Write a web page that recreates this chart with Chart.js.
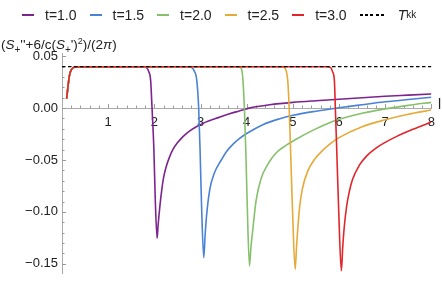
<!DOCTYPE html>
<html>
<head>
<meta charset="utf-8">
<script src="https://cdn.jsdelivr.net/npm/chart.js@4.4.1/dist/chart.umd.min.js"></script>
<style>
  body { margin: 0; background: #fff; }
  #wrap { position: relative; width: 442px; height: 285px; font-family: 'Liberation Sans', Arial, sans-serif; color: #222; }
  #legend { position: absolute; top: 7px; left: 22px; display: flex; align-items: center; font-size: 14px; line-height: 16px; white-space: nowrap; }
  .item { display: flex; align-items: center; margin-right: 13px; }
  .sw { display: inline-block; width: 12px; height: 2px; margin-right: 11px; }
  .dash { width: 26px; height: 1.5px; margin-right: 12px; background: repeating-linear-gradient(90deg, #000 0 3px, transparent 3px 5.2px); }
  sub { font-size: 10px; vertical-align: -4px; }
  sup { font-size: 9px; vertical-align: 5px; }
  #ytitle { position: absolute; top: 33px; left: 1px; font-size: 13.5px; line-height: 16px; white-space: nowrap; }
  #xtitle { position: absolute; top: 96px; left: 438px; font-size: 14px; }
</style>
</head>
<body>
<div id="wrap">
  <canvas id="myChart" width="442" height="285"></canvas>
  <div id="legend"></div>
  <div id="ytitle">(<i>S</i><sub>+</sub>''+6/c(<i>S</i><sub>+</sub>')<sup>2</sup>)/(2<i>π</i>)</div>
  <div id="xtitle">l</div>
</div>
<script>
// valores
const tLabels = ['t=1.0', 't=1.5', 't=2.0', 't=2.5', 't=3.0'];
const cores = ['#7d2390', '#4a82d6', '#86c06c', '#e6aa38', '#e2252a'];

const l_t10 = [0.10, 0.16, 0.21, 0.30, 1.00, 1.75, 1.83, 1.88, 1.92, 1.95, 1.99, 2.02, 2.06, 2.08, 2.12, 2.16, 2.20, 2.26, 2.33, 2.40, 2.50, 2.62, 2.76, 2.91, 3.10, 3.34, 3.63, 3.84, 4.05, 4.50, 5.00, 5.50, 6.00, 6.50, 7.00, 7.50, 8.00];
const S_t10 = [0.009, 0.031, 0.0375, 0.0395, 0.0398, 0.0398, 0.0390, 0.035, 0.0264, 0.0, -0.040, -0.088, -0.1254, -0.1135, -0.0945, -0.079, -0.067, -0.056, -0.047, -0.040, -0.0335, -0.0275, -0.0222, -0.0180, -0.0138, -0.0099, -0.0055, -0.0028, -0.0001, 0.0032, 0.0055, 0.0071, 0.0085, 0.0099, 0.0113, 0.0124, 0.0135];

const l_t15 = [0.10, 0.16, 0.21, 0.30, 1.50, 2.72, 2.80, 2.86, 2.92, 2.96, 2.99, 3.02, 3.07, 3.10, 3.13, 3.20, 3.30, 3.45, 3.56, 3.70, 3.84, 4.00, 4.35, 4.70, 5.00, 5.50, 6.00, 6.50, 7.00, 7.50, 8.00];
const S_t15 = [0.009, 0.031, 0.0375, 0.0395, 0.0398, 0.0398, 0.0392, 0.036, 0.0264, 0.0, -0.040, -0.090, -0.144, -0.122, -0.104, -0.0785, -0.0626, -0.050, -0.042, -0.035, -0.0295, -0.0245, -0.0160, -0.0105, -0.0070, -0.0030, 0.0003, 0.0032, 0.0060, 0.0083, 0.0104];

const l_t20 = [0.10, 0.16, 0.21, 0.30, 2.00, 3.78, 3.87, 3.90, 3.92, 3.95, 3.98, 4.01, 4.06, 4.09, 4.13, 4.20, 4.31, 4.46, 4.64, 4.85, 5.07, 5.43, 5.86, 6.00, 6.50, 7.00, 7.50, 8.00];
const S_t20 = [0.009, 0.031, 0.0375, 0.0395, 0.0398, 0.0398, 0.0390, 0.035, 0.0264, 0.0, -0.040, -0.090, -0.152, -0.135, -0.118, -0.090, -0.068, -0.054, -0.043, -0.036, -0.030, -0.0215, -0.0130, -0.0108, -0.0050, -0.0008, 0.0026, 0.0055];

const l_t25 = [0.10, 0.16, 0.21, 0.30, 2.50, 4.75, 4.82, 4.86, 4.89, 4.92, 4.95, 4.99, 5.05, 5.08, 5.11, 5.15, 5.21, 5.32, 5.46, 5.64, 5.82, 6.00, 6.50, 7.00, 7.50, 8.00];
const S_t25 = [0.009, 0.031, 0.0375, 0.0395, 0.0398, 0.0398, 0.0390, 0.035, 0.026, 0.0, -0.040, -0.095, -0.1554, -0.133, -0.114, -0.094, -0.077, -0.061, -0.050, -0.041, -0.034, -0.0285, -0.0180, -0.0113, -0.0060, -0.0019];

const l_t30 = [0.10, 0.16, 0.21, 0.30, 3.00, 5.74, 5.82, 5.86, 5.90, 5.92, 5.95, 5.99, 6.05, 6.08, 6.11, 6.16, 6.22, 6.29, 6.44, 6.60, 6.80, 7.00, 7.24, 7.60, 8.00];
const S_t30 = [0.009, 0.031, 0.0375, 0.0395, 0.0398, 0.0398, 0.0390, 0.035, 0.026, 0.0, -0.040, -0.095, -0.1567, -0.134, -0.116, -0.096, -0.081, -0.069, -0.055, -0.046, -0.0385, -0.0330, -0.0275, -0.0205, -0.0135];

const tkkX = [0, 8];
const tkkY = [0.0398, 0.0398];

const xTicks = [1, 2, 3, 4, 5, 6, 7, 8];
const yTicks = [0.05, 0.00, -0.05, -0.10, -0.15];

const series = [[l_t10, S_t10], [l_t15, S_t15], [l_t20, S_t20], [l_t25, S_t25], [l_t30, S_t30]];

function pontos(xs, ys) {
    return xs.map((x, i) => ({ x: x, y: ys[i] }));
}

// legenda em HTML
const legend = document.getElementById('legend');
tLabels.forEach((lab, i) => {
    legend.insertAdjacentHTML('beforeend',
        '<span class="item"><span class="sw" style="background:' + cores[i] + '"></span>' + lab + '</span>');
});
legend.insertAdjacentHTML('beforeend',
    '<span class="item"><span class="sw dash"></span><i>T</i><sub>kk</sub></span>');

const datasets = series.map((s, i) => ({
    label: tLabels[i],
    data: pontos(s[0], s[1]),
    borderColor: cores[i],
    borderWidth: 1.6,
    pointRadius: 0,
    cubicInterpolationMode: 'monotone',
    fill: false,
    order: 5 - i
}));
datasets.push({
    label: 'T_kk',
    data: pontos(tkkX, tkkY),
    borderColor: '#000',
    borderWidth: 1.3,
    borderDash: [3.5, 2.5],
    pointRadius: 0,
    fill: false,
    order: 0
});

// marcas de escala para dentro (estilo Mathematica)
const marcas = {
    id: 'marcas',
    beforeDatasetsDraw(chart) {
        const c = chart.ctx, sx = chart.scales.x, sy = chart.scales.y;
        const y0 = sy.getPixelForValue(0), x0 = sx.getPixelForValue(0);
        c.save();
        c.strokeStyle = '#9a9a9a';
        c.lineWidth = 1;
        c.beginPath();
        for (let k = 1; k <= 40; k++) {
            const px = Math.round(sx.getPixelForValue(k * 0.2)) + 0.5;
            const len = k % 5 === 0 ? 4 : 2.5;
            c.moveTo(px, y0);
            c.lineTo(px, y0 - len);
        }
        for (let k = -15; k <= 5; k++) {
            const py = Math.round(sy.getPixelForValue(k * 0.01)) + 0.5;
            const len = k % 5 === 0 ? 4 : 2.5;
            c.moveTo(x0, py);
            c.lineTo(x0 + len, py);
        }
        c.stroke();
        c.restore();
    }
};

const ctx = document.getElementById('myChart').getContext('2d');
const myChart = new Chart(ctx, {
    type: 'line',
    data: { datasets: datasets },
    options: {
        responsive: false,
        animation: false,
        devicePixelRatio: 1,
        layout: { padding: { top: 53, right: 10, bottom: 10.5, left: 0 } },
        plugins: { legend: { display: false }, tooltip: { enabled: false } },
        scales: {
            x: {
                type: 'linear',
                axis: 'x',
                position: { y: 0 },
                min: 0,
                max: 8,
                afterBuildTicks: s => { s.ticks = xTicks.map(v => ({ value: v })); },
                grid: { display: true, drawOnChartArea: false, drawTicks: false },
                border: { display: true, color: '#aaaaaa', width: 1 },
                ticks: {
                    padding: 7,
                    maxRotation: 0,
                    autoSkip: false,
                    color: '#222',
                    font: { family: "'Liberation Sans', Arial", size: 13 },
                    callback: v => String(v)
                }
            },
            y: {
                type: 'linear',
                position: 'left',
                min: -0.159,
                max: 0.053,
                afterBuildTicks: s => { s.ticks = yTicks.map(v => ({ value: v })); },
                afterFit: s => { s.width = 62; },
                grid: { display: true, drawOnChartArea: false, drawTicks: false },
                border: { display: true, color: '#aaaaaa', width: 1 },
                ticks: {
                    padding: 4,
                    autoSkip: false,
                    color: '#222',
                    font: { family: "'Liberation Sans', Arial", size: 13 },
                    callback: v => (v < -1e-9 ? '\u2212' : '') + Math.abs(v).toFixed(2)
                }
            }
        }
    },
    plugins: [marcas]
});
</script>
</body>
</html>
